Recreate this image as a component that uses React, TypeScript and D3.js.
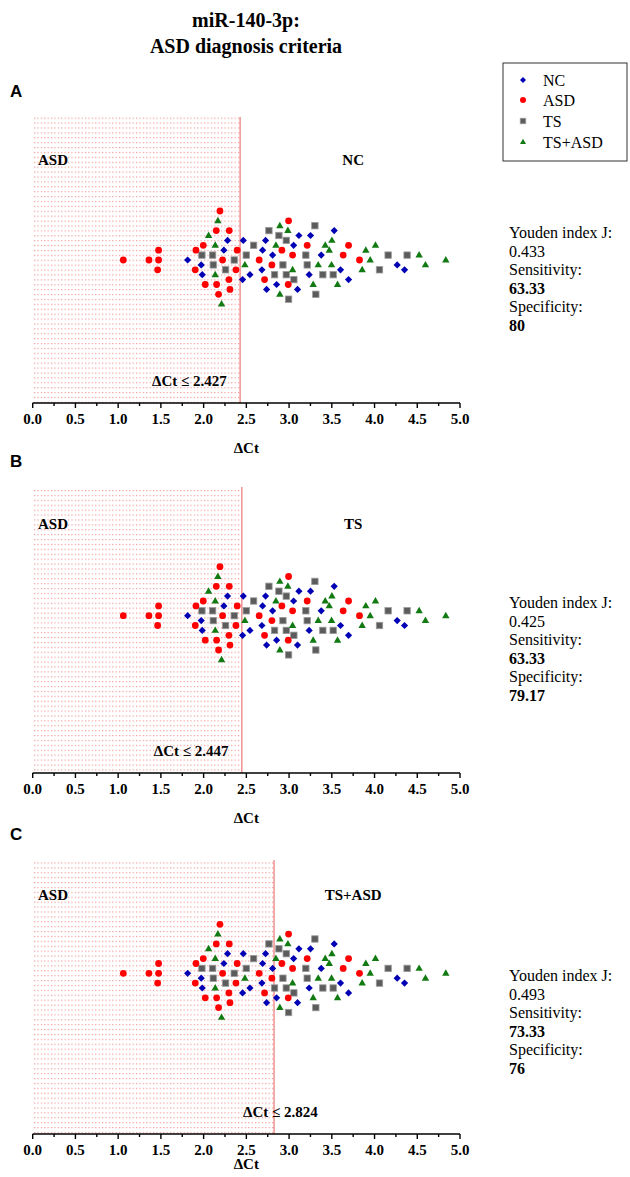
import React from "react";
import * as d3 from "d3";

// ---------- data ----------
// [ΔCt value, swarm lane]
const ncPoints: [number, number][] = [
  [2.280, -4], [2.237, -2], [1.813, 0], [1.972, 1], [1.984, 3], [2.464, -4], [2.456, 4], [2.542, 3],
  [2.725, -4], [2.690, -2], [2.807, -1], [2.682, 2], [2.737, 6], [2.854, 5], [3.099, 6], [3.115, -5],
  [3.251, -5], [3.053, -3], [3.235, 3], [3.376, -1], [3.528, -6], [3.602, 2], [3.696, 4], [4.265, 1], [4.351, 2],
];
const asdPoints: [number, number][] = [
  [1.060, 0], [1.360, 0], [1.473, -2], [1.473, 0], [1.462, 2], [2.191, -10], [2.148, -6], [2.300, -6],
  [1.996, -3], [1.910, -2], [2.393, -2], [2.222, 0], [1.902, 2], [2.378, 2], [2.296, 4], [2.019, 5],
  [2.152, 5], [2.308, 6], [2.175, 7], [2.650, 0], [2.916, -2], [2.799, 1], [2.713, 4], [2.994, -8],
  [3.041, -1], [3.212, -3], [2.990, 5], [3.696, -3], [3.633, -1], [3.824, 0],
];
const tsPoints: [number, number][] = [
  [1.980, -1], [2.105, -1], [2.113, 1], [2.257, 2], [2.358, 0], [2.585, -3], [2.499, -1], [2.764, -6],
  [2.881, -5], [2.967, -4], [2.928, 1], [2.830, 3], [2.967, 3], [3.056, 4], [2.994, 8], [3.302, -7],
  [3.196, -1], [3.212, 1], [3.395, 3], [3.313, 7], [3.516, 3], [4.159, -1], [4.381, -1], [4.058, 2],
];
const tsAsdPoints: [number, number][] = [
  [2.167, -8], [2.058, -5], [2.136, -3], [2.483, 1], [2.136, 3], [2.210, 9], [2.892, -7], [2.986, -6],
  [2.846, -3], [3.041, 2], [3.282, 5], [2.892, 7], [3.341, 1], [3.423, -3], [3.470, -2], [3.501, -4],
  [3.497, 1], [3.567, 5], [3.898, -2], [4.011, -3], [3.949, 0], [3.855, 2], [4.522, -1], [4.596, 1], [4.834, 0],
];

const panelLetters = ["A", "B", "C"];
const thresholds = [2.427, 2.447, 2.824];
const comparisonLabels = ["NC", "TS", "TS+ASD"];
const youdenJ = ["0.433", "0.425", "0.493"];
const sensitivity = ["63.33", "63.33", "73.33"];
const specificity = ["80", "79.17", "76"];
const tickValues = [0, 0.5, 1, 1.5, 2, 2.5, 3, 3.5, 4, 4.5, 5];
const legendLabels = ["NC", "ASD", "TS", "TS+ASD"];

// ---------- layout ----------
const W = 630;
const H = 1177;
const panelTop = [117, 487, 860];
const axisYs = [403, 773, 1134];
const dataCenter = [260, 615.7, 973.3];
const groupLabelDy = [48, 42, 40];
const axisTitleDy = [50, 50, 35];
const serif = "'Liberation Serif', 'Times New Roman', serif";
const sans = "'Liberation Sans', Arial, sans-serif";

const x = d3.scaleLinear().domain([0, 5]).range([32.7, 460]);
const lane = d3.scaleLinear().domain([-10, 10]).range([-49, 49]);

const COL = { nc: "#0000b4", asd: "#ff0000", ts: "#5c5c5c", tsasd: "#127a12" };

function Diamond({ cx, cy, s = 3.6 }: { cx: number; cy: number; s?: number }) {
  return <path d={`M${cx},${cy - s}L${cx + s},${cy}L${cx},${cy + s}L${cx - s},${cy}Z`} fill={COL.nc} />;
}
function Circle({ cx, cy, r = 3.4 }: { cx: number; cy: number; r?: number }) {
  return <circle cx={cx} cy={cy} r={r} fill={COL.asd} />;
}
function Square({ cx, cy, s = 6.4 }: { cx: number; cy: number; s?: number }) {
  return <rect x={cx - s / 2} y={cy - s / 2} width={s} height={s} fill={COL.ts} stroke="#9a9a9a" strokeWidth={0.8} />;
}
function Triangle({ cx, cy, s = 7.4 }: { cx: number; cy: number; s?: number }) {
  const h = s * 0.87;
  return <path d={`M${cx},${cy - h * 0.62}L${cx + s / 2},${cy + h * 0.38}L${cx - s / 2},${cy + h * 0.38}Z`} fill={COL.tsasd} />;
}

function Panel({ i }: { i: number }) {
  const top = panelTop[i];
  const axisY = axisYs[i];
  const cy = dataCenter[i];
  const thrX = x(thresholds[i]);
  const minor = d3.range(0, 5.001, 0.25);
  return (
    <g>
      <text x={10} y={top - 20} fontFamily={sans} fontWeight="bold" fontSize={17}>{panelLetters[i]}</text>
      <rect x={x(0)} y={top} width={thrX - x(0)} height={axisY - top} fill="url(#dots)" />
      <line x1={thrX} x2={thrX} y1={top} y2={axisY} stroke="#ee8a8a" strokeWidth={1.4} />
      <text x={38} y={top + groupLabelDy[i]} fontFamily={serif} fontWeight="bold" fontSize={15}>ASD</text>
      <text x={x(3.75)} y={top + groupLabelDy[i]} fontFamily={serif} fontWeight="bold" fontSize={15} textAnchor="middle">{comparisonLabels[i]}</text>
      <text x={thrX - 88 + (i === 2 ? 57 : 0)} y={axisY - 17} fontFamily={serif} fontWeight="bold" fontSize={15}>
        {"ΔCt ≤ " + thresholds[i].toFixed(3)}
      </text>
      {ncPoints.map((d, k) => <Diamond key={"n" + k} cx={x(d[0])} cy={cy + lane(d[1])} />)}
      {tsPoints.map((d, k) => <Square key={"t" + k} cx={x(d[0])} cy={cy + lane(d[1])} />)}
      {tsAsdPoints.map((d, k) => <Triangle key={"g" + k} cx={x(d[0])} cy={cy + lane(d[1])} />)}
      {asdPoints.map((d, k) => <Circle key={"a" + k} cx={x(d[0])} cy={cy + lane(d[1])} />)}
      <line x1={x(0)} x2={x(5)} y1={axisY} y2={axisY} stroke="#000" strokeWidth={1.6} />
      {minor.map((v, k) => (
        <line key={"m" + k} x1={x(v)} x2={x(v)} y1={axisY} y2={axisY + (k % 2 === 0 ? 5 : 3)} stroke="#000" strokeWidth={1.4} />
      ))}
      {tickValues.map((v) => (
        <text key={"t" + v} x={x(v)} y={axisY + 21} fontFamily={serif} fontWeight="bold" fontSize={15} textAnchor="middle">
          {v.toFixed(1)}
        </text>
      ))}
      <text x={x(2.5)} y={axisY + axisTitleDy[i]} fontFamily={serif} fontWeight="bold" fontSize={15} textAnchor="middle">ΔCt</text>
      <g fontFamily={serif} fontSize={16}>
        <text x={509} y={top + 121}>Youden index J:</text>
        <text x={509} y={top + 139.5}>{youdenJ[i]}</text>
        <text x={509} y={top + 158}>Sensitivity:</text>
        <text x={509} y={top + 176.5} fontWeight="bold">{sensitivity[i]}</text>
        <text x={509} y={top + 195}>Specificity:</text>
        <text x={509} y={top + 213.5} fontWeight="bold">{specificity[i]}</text>
      </g>
    </g>
  );
}

function Legend() {
  const ys = [80, 100, 121, 142];
  const mx = 523;
  return (
    <g>
      <rect x={503} y={63} width={124} height={98} fill="none" stroke="#333" strokeWidth={1} />
      <Diamond cx={mx} cy={ys[0]} s={3} />
      <Circle cx={mx} cy={ys[1]} r={3} />
      <Square cx={mx} cy={ys[2]} s={5.5} />
      <Triangle cx={mx} cy={ys[3]} s={6} />
      {legendLabels.map((l, k) => (
        <text key={l} x={543} y={ys[k] + 5.5} fontFamily={serif} fontSize={16}>{l}</text>
      ))}
    </g>
  );
}

export default function App() {
  return (
    <svg width={W} height={H} style={{ display: "block", position: "absolute", left: 0, top: 0, background: "#fff" }}>
      <defs>
        <pattern id="dots" patternUnits="userSpaceOnUse" width={3.4} height={4.9}>
          <rect x={0} y={0} width={1.2} height={1.2} fill="#f29a9a" />
        </pattern>
      </defs>
      <rect width={W} height={H} fill="#fff" />
      <text x={246} y={27} textAnchor="middle" fontFamily={serif} fontWeight="bold" fontSize={20}>miR-140-3p:</text>
      <text x={246} y={53} textAnchor="middle" fontFamily={serif} fontWeight="bold" fontSize={20}>ASD diagnosis criteria</text>
      <Legend />
      {[0, 1, 2].map((i) => <Panel key={i} i={i} />)}
    </svg>
  );
}
